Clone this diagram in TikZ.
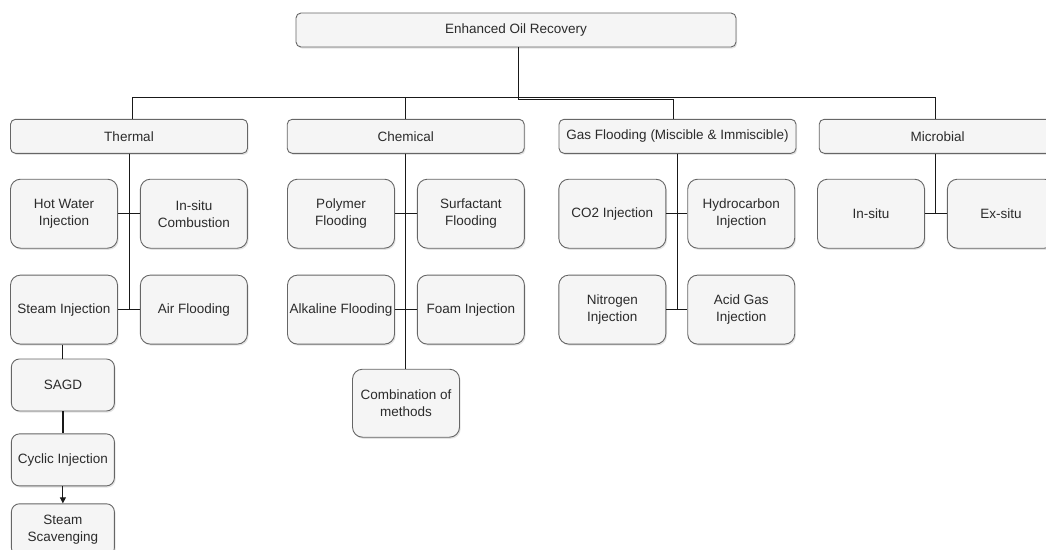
\documentclass[tikz,border=0pt]{standalone}
\usepackage{fontspec}
\setmainfont{Liberation Sans}
\usepackage{tikz}
\usetikzlibrary{arrows.meta, positioning, shadows}
\definecolor{boxfill}{HTML}{F5F5F5}
\definecolor{boxline}{HTML}{666666}
\definecolor{labeltext}{HTML}{2B2B2B}
\tikzset{
  base/.style={rectangle, draw=boxline, fill=boxfill, text=labeltext,
    align=center, font=\fontsize{13.5}{17}\selectfont, line width=0.9pt,
    inner sep=1.5pt,
    drop shadow={shadow xshift=1.2pt, shadow yshift=-1.6pt, opacity=0.22}},
  header/.style={base, rounded corners=5pt, minimum width=237pt,
    minimum height=34pt},
  method/.style={base, rounded corners=10pt, minimum width=107pt,
    minimum height=69pt},
  substep/.style={base, rounded corners=8pt, minimum width=103pt,
    minimum height=52pt},
  link/.style={draw=black!90, line width=0.9pt},
  arrow/.style={link, -{Triangle[length=6pt, width=6pt]}},
}

\begin{document}
\begin{tikzpicture}[x=1pt, y=-1pt]

  \useasboundingbox (0,0) rectangle (1046,549);
  \clip (0,0) rectangle (1046,549);

  % ── Root ──
  \node[header, minimum width=440pt] (eor) at (516,30) {Enhanced Oil Recovery};

  % ── Categories ──
  \node[header] (thermal)   at (129,136.3)   {Thermal};
  \node[header] (chemical)  at (405.7,136.3) {Chemical};
  \node[header] (gas)       at (677.5,136.3) {Gas Flooding (Miscible \& Immiscible)};
  \node[header] (microbial) at (937.7,136.3) {Microbial};

  % ── Thermal methods ──
  \node[method] (hotwater) at (64,213.7) {Hot Water\\Injection};
  \node[method, right=22pt of hotwater] (combustion) {In-situ\\Combustion};
  \node[method, below=26pt of hotwater] (steam) {Steam Injection};
  \node[method, right=22pt of steam] (airflood) {Air Flooding};
  \node[substep, below=14pt of steam, xshift=-1.1pt] (sagd) {SAGD};
  \node[substep, below=22pt of sagd] (cyclic) {Cyclic Injection};
  \node[substep, below=17pt of cyclic] (scavenging) {Steam\\Scavenging};

  % ── Chemical methods ──
  \node[method] (polymer) at (341,213.7) {Polymer\\Flooding};
  \node[method, right=22pt of polymer] (surfactant) {Surfactant\\Flooding};
  \node[method, below=26pt of polymer] (alkaline) {Alkaline Flooding};
  \node[method, right=22pt of alkaline] (foam) {Foam Injection};
  \node[method, minimum height=68pt] (combo) at (406,403.2) {Combination of\\methods};

  % ── Gas methods ──
  \node[method] (co2) at (612.3,213.7) {CO2 Injection};
  \node[method, right=21pt of co2] (hydrocarbon) {Hydrocarbon\\Injection};
  \node[method, below=26pt of co2] (nitrogen) {Nitrogen\\Injection};
  \node[method, right=21pt of nitrogen] (acidgas) {Acid Gas\\Injection};

  % ── Microbial methods ──
  \node[method] (insitu) at (871,213.7) {In-situ};
  \node[method, right=22pt of insitu] (exsitu) {Ex-situ};

  % ── Root links ──
  \draw[link] ([xshift=2pt]eor.south) -- ++(0,50) -| ([xshift=3.5pt]thermal.north);
  \draw[link] ([xshift=2pt]eor.south) -- ++(0,50) -| (chemical.north);
  \draw[link] ([xshift=2pt]eor.south) -- ++(0,52) -| ([xshift=-4pt]gas.north);
  \draw[link] ([xshift=2pt]eor.south) -- ++(0,50) -| ([xshift=-2.5pt]microbial.north);

  % ── Branch links ──
  \draw[link] (thermal.south)   |- (hotwater.east);
  \draw[link] (thermal.south)   |- (combustion.west);
  \draw[link] (thermal.south)   |- (steam.east);
  \draw[link] (thermal.south)   |- (airflood.west);
  \draw[link] (chemical.south)  |- (polymer.east);
  \draw[link] (chemical.south)  |- (surfactant.west);
  \draw[link] (chemical.south)  |- (alkaline.east);
  \draw[link] (chemical.south)  |- (foam.west);
  \draw[link] (chemical.south)  -- (chemical.south |- combo.north);
  \draw[link] (gas.south)       |- (co2.east);
  \draw[link] (gas.south)       |- (hydrocarbon.west);
  \draw[link] (gas.south)       |- (nitrogen.east);
  \draw[link] (gas.south)       |- (acidgas.west);
  \draw[link] ([xshift=-2.5pt]microbial.south) |- (insitu.east);
  \draw[link] ([xshift=-2.5pt]microbial.south) |- (exsitu.west);

  % ── Steam chain ──
  \draw[link] (sagd.north |- steam.south) -- (sagd.north);
  \draw[link, line width=1.4pt] (sagd) -- (cyclic);
  \draw[arrow] (cyclic) -- (scavenging);

\end{tikzpicture}
\end{document}
